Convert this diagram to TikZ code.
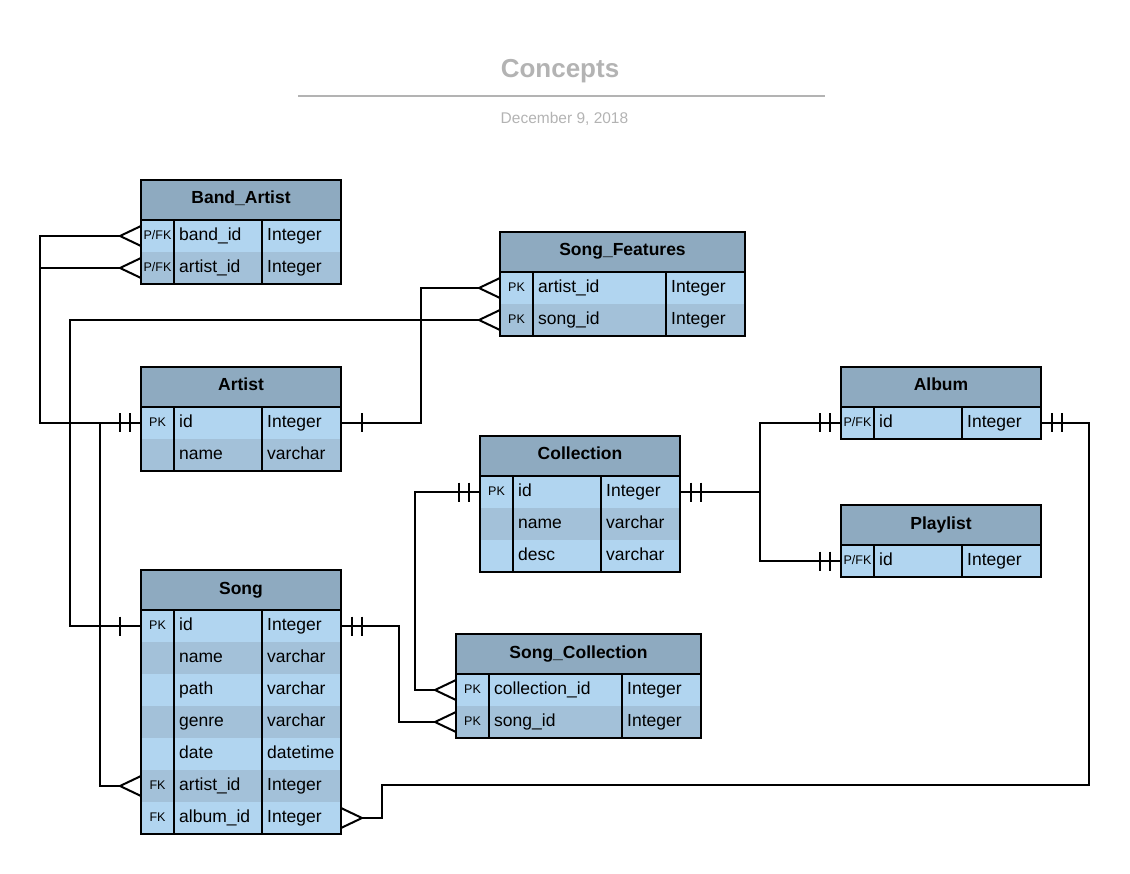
\documentclass[tikz,border=0pt]{standalone}
\usepackage{fontspec}
\setmainfont{Liberation Sans}
\usetikzlibrary{calc}

\definecolor{headfill}{HTML}{8EAAC0}
\definecolor{rowlight}{HTML}{B1D5F0}
\definecolor{rowdark}{HTML}{A3C1D9}
\definecolor{titlegray}{HTML}{B3B3B3}

\newcommand\pfk{P/FK}

% #1 name, #2 x, #3 y, #4 field column width, #5 title, #6 number of rows, #7 key/field/type rows
\newcommand\ertable[7]{%
  \pgfmathsetmacro\tabw{33+#4+79}
  \node[tabhead, minimum width=\tabw pt, anchor=north west] (#1) at (#2,#3) {};
  \node[headtext] (#1-title) at ($(#1.center)+(0,4)$) {#5};
  \foreach \rkey/\rname/\rtype [count=\i] in {#7} {
    \pgfmathsetmacro\ry{#3+40+32*(\i-1)}
    \ifodd\i \def\rc{rowlight}\else \def\rc{rowdark}\fi
    \node[tabrow, fill=\rc, minimum width=\tabw pt, anchor=north west] (#1-\i) at (#2,\ry) {};
    \node[keytext] (#1-\i-key) at ($(#1-\i.west)+(16.5,3.5)$) {\rkey};
    \node[fieldtext] (#1-\i-name) at ($(#1-\i.west)+(38,4.5)$) {\rname};
    \node[fieldtext] (#1-\i-type) at ($(#1-\i.west)+(33+#4+5,4.5)$) {\rtype};
  }
  \draw[tabline] ($(#1-1.north west)+(33,0)$) -- ($(#1-#6.south west)+(33,0)$);
  \draw[tabline] ($(#1-1.north west)+(33+#4,0)$) -- ($(#1-#6.south west)+(33+#4,0)$);
  \draw[tabline] (#1.south west) -- (#1.south east);
  \draw[tabline] (#1.north west) rectangle (#1-#6.south east);
}

% relationship ends: #1 anchor on the table edge, #2 direction (-1 to the left, 1 to the right)
\newcommand\crowfoot[2]{%
  \draw[conn] ($(#1)+(#2*21,0)$) -- ($(#1)+(0,-10)$)
              ($(#1)+(#2*21,0)$) -- ($(#1)+(0,10)$);}
\newcommand\onebar[2]{%
  \draw[conn] ($(#1)+(#2*21,-9.5)$) -- ($(#1)+(#2*21,9.5)$);}
\newcommand\twobar[2]{%
  \draw[conn] ($(#1)+(#2*11,-9.5)$) -- ($(#1)+(#2*11,9.5)$)
              ($(#1)+(#2*21,-9.5)$) -- ($(#1)+(#2*21,9.5)$);}

\begin{document}
\begin{tikzpicture}[x=1pt, y=-1pt,
  tabhead/.style={fill=headfill, minimum height=40pt, inner sep=0pt, outer sep=0pt},
  tabrow/.style={minimum height=32pt, inner sep=0pt, outer sep=0pt},
  tabline/.style={line width=2pt, black},
  conn/.style={line width=2pt, black},
  headtext/.style={font=\bfseries\fontsize{17.5}{20}\selectfont, inner sep=0pt, anchor=base},
  fieldtext/.style={font=\fontsize{17.5}{20}\selectfont, inner sep=0pt, anchor=base west},
  keytext/.style={font=\fontsize{12.5}{15}\selectfont, inner sep=0pt, anchor=base},
]
\useasboundingbox (0,0) rectangle (1130,874);

% heading
\node[font=\bfseries\fontsize{26}{30}\selectfont, text=titlegray, inner sep=0pt, anchor=base] (title) at (560,78) {Concepts};
\draw[line width=2pt, titlegray] (298,96) coordinate (rulel) -- (825,96) coordinate (ruler);
\node[font=\fontsize{15.5}{18}\selectfont, text=titlegray, inner sep=0pt, anchor=base] (date) at (564.5,124) {December 9, 2018};

% tables
\ertable{bandartist}{141}{180}{88}{Band\_Artist}{2}{\pfk/band\_id/Integer, \pfk/artist\_id/Integer}
\ertable{songfeat}{500}{232}{133}{Song\_Features}{2}{PK/artist\_id/Integer, PK/song\_id/Integer}
\ertable{artist}{141}{367}{88}{Artist}{2}{PK/id/Integer, {}/name/varchar}
\ertable{collection}{480}{436}{88}{Collection}{3}{PK/id/Integer, {}/name/varchar, {}/desc/varchar}
\ertable{album}{841}{367}{88}{Album}{1}{\pfk/id/Integer}
\ertable{playlist}{841}{505}{88}{Playlist}{1}{\pfk/id/Integer}
\ertable{song}{141}{570}{88}{Song}{7}{PK/id/Integer, {}/name/varchar, {}/path/varchar, {}/genre/varchar, {}/date/datetime, FK/artist\_id/Integer, FK/album\_id/Integer}
\ertable{songcoll}{456}{634}{133}{Song\_Collection}{2}{PK/collection\_id/Integer, PK/song\_id/Integer}

% crow's-foot apexes
\coordinate (bafoot1) at ($(bandartist-1.west)+(-21,0)$);
\coordinate (bafoot2) at ($(bandartist-2.west)+(-21,0)$);
\coordinate (sffoot1) at ($(songfeat-1.west)+(-21,0)$);
\coordinate (sffoot2) at ($(songfeat-2.west)+(-21,0)$);
\coordinate (scfoot1) at ($(songcoll-1.west)+(-21,0)$);
\coordinate (scfoot2) at ($(songcoll-2.west)+(-21,0)$);
\coordinate (sgfoot6) at ($(song-6.west)+(-21,0)$);
\coordinate (sgfoot7) at ($(song-7.east)+(21,0)$);
\coordinate (artjoin) at ($(artist-1.west)+(-41,0)$);

% relationships
\draw[conn] (bafoot1) -- ++(-80,0) |- (artist-1.west);
\draw[conn] (bafoot2) -- ++(-80,0) |- (artist-1.west);
\draw[conn] (artist-1.east) -- ++(80,0) |- (sffoot1);
\draw[conn] (sffoot2) -- ++(-409,0) |- (song-1.west);
\draw[conn] (artjoin) |- (sgfoot6);
\draw[conn] (song-1.east) -- ++(58,0) |- (scfoot2);
\draw[conn] (collection-1.west) -- ++(-65,0) |- (scfoot1);
\draw[conn] (collection-1.east) -- ++(80,0) coordinate (coljoin) |- (album-1.west);
\draw[conn] (coljoin) |- (playlist-1.west);
\draw[conn] (album-1.east) -- ++(48,0) -- ++(0,362) -- ++(-707,0) |- (sgfoot7);

% cardinality marks
\crowfoot{bandartist-1.west}{-1}
\crowfoot{bandartist-2.west}{-1}
\crowfoot{songfeat-1.west}{-1}
\crowfoot{songfeat-2.west}{-1}
\crowfoot{songcoll-1.west}{-1}
\crowfoot{songcoll-2.west}{-1}
\crowfoot{song-6.west}{-1}
\crowfoot{song-7.east}{1}
\twobar{artist-1.west}{-1}
\onebar{artist-1.east}{1}
\onebar{song-1.west}{-1}
\twobar{song-1.east}{1}
\twobar{collection-1.west}{-1}
\twobar{collection-1.east}{1}
\twobar{album-1.west}{-1}
\twobar{album-1.east}{1}
\twobar{playlist-1.west}{-1}
\end{tikzpicture}
\end{document}
